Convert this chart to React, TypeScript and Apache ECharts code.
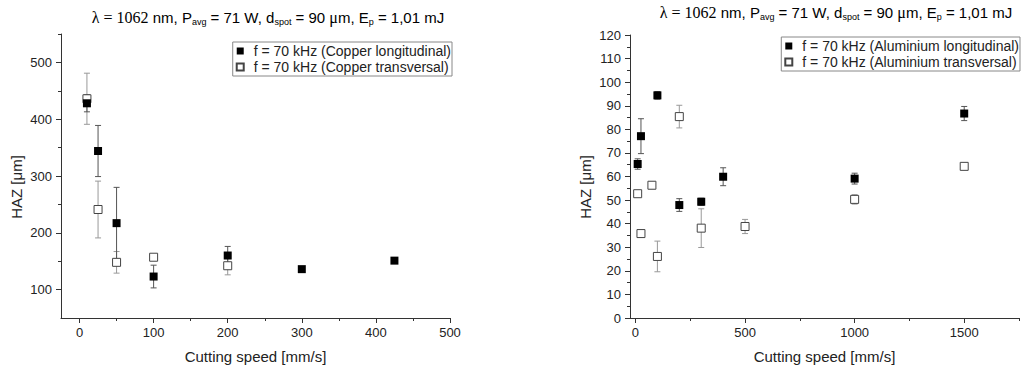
import React, { useEffect, useRef } from "react";
import * as echarts from "echarts";

// ---- Data: Copper (left chart) ----
const cuLongX = [10, 25, 50, 100, 200, 300, 425];
const cuLongY = [428, 344, 217, 123, 160, 136, 151];
const cuLongErr = [15, 45, 63, 20, 16, 3, 5];

const cuTransX = [10, 25, 50, 100, 200];
const cuTransY = [436, 241, 148, 157, 142];
const cuTransErr = [45, 50, 19, 3, 16];

// ---- Data: Aluminium (right chart) ----
const alLongX = [10, 25, 100, 200, 300, 400, 1000, 1500];
const alLongY = [65.3, 77.1, 94.4, 47.9, 49.3, 59.9, 59.1, 86.7];
const alLongErr = [2.2, 7.4, 1.6, 2.7, 1.5, 3.8, 2.3, 3];

const alTransX = [10, 25, 75, 100, 200, 300, 500, 1000, 1500];
const alTransY = [52.7, 35.8, 56.3, 26.1, 85.4, 38.1, 38.8, 50.3, 64.3];
const alTransErr = [1, 1.5, 1.5, 6.5, 4.8, 8.2, 3, 2, 1];

// ---- Ticks ----
const cuXMajor = [0, 100, 200, 300, 400, 500];
const cuXMinor = [50, 150, 250, 350, 450];
const cuYMajor = [100, 200, 300, 400, 500];
const cuYMinor = [150, 250, 350, 450, 550];
const alXMajor = [0, 500, 1000, 1500];
const alXMinor = [250, 750, 1250, 1750];
const alYMajor = [0, 10, 20, 30, 40, 50, 60, 70, 80, 90, 100, 110, 120];
const alYMinor = [5, 15, 25, 35, 45, 55, 65, 75, 85, 95, 105, 115];

const legCuLong = "f = 70 kHz (Copper longitudinal)";
const legCuTrans = "f = 70 kHz (Copper transversal)";
const legAlLong = "f = 70 kHz (Aluminium longitudinal)";
const legAlTrans = "f = 70 kHz (Aluminium transversal)";

const FONT = "'Liberation Sans', Arial, sans-serif";
const TXT = "#222";
const AX = "#333";

function pts(xs: number[], ys: number[]) {
  return xs.map((x, i) => [x, ys[i]]);
}
function errs(xs: number[], ys: number[], es: number[]) {
  return xs.map((x, i) => [x, ys[i] - es[i], ys[i] + es[i]]);
}

function makeErrRender(color: string) {
  return (params: any, api: any) => {
    const x = api.value(0);
    const lo = api.value(1);
    const hi = api.value(2);
    const a = api.coord([x, hi]);
    const b = api.coord([x, lo]);
    const w = 3;
    const style = { stroke: color, lineWidth: 1 };
    return {
      type: "group",
      children: [
        { type: "line", shape: { x1: a[0], y1: a[1], x2: b[0], y2: b[1] }, style },
        { type: "line", shape: { x1: a[0] - w, y1: a[1], x2: a[0] + w, y2: a[1] }, style },
        { type: "line", shape: { x1: b[0] - w, y1: b[1], x2: b[0] + w, y2: b[1] }, style },
      ],
    };
  };
}

function mainAxis(gridIndex: number, min: number, max: number, major: number[], pos: "bottom" | "left", name: string) {
  return {
    type: "value",
    gridIndex,
    position: pos,
    min,
    max,
    name,
    nameLocation: "middle",
    nameGap: 31,
    nameTextStyle: { fontFamily: FONT, fontSize: 15, color: TXT },
    splitLine: { show: false },
    axisLine: { show: true, onZero: false, lineStyle: { color: AX, width: 1 } },
    axisTick: { show: true, inside: false, length: 5, customValues: major, lineStyle: { color: AX } },
    axisLabel: {
      show: true,
      customValues: major,
      formatter: (v: number) => String(v),
      margin: pos === "bottom" ? 8 : 9,
      fontFamily: FONT,
      fontSize: 13,
      color: TXT,
    },
  };
}

function minorAxis(gridIndex: number, min: number, max: number, minor: number[], pos: "bottom" | "left") {
  return {
    type: "value",
    gridIndex,
    position: pos,
    min,
    max,
    splitLine: { show: false },
    axisLine: { show: false, onZero: false },
    axisTick: { show: true, inside: false, length: 3, customValues: minor, lineStyle: { color: AX } },
    axisLabel: { show: false, customValues: minor },
  };
}

const subStyle = { fontSize: 9, fontFamily: FONT, color: TXT, verticalAlign: "bottom", lineHeight: 7 };
const titleRich = {
  s: { fontSize: 16, fontFamily: "'Liberation Serif', 'Times New Roman', serif", color: TXT, lineHeight: 18 },
  sub: subStyle,
  n: { fontSize: 15, fontFamily: FONT, color: TXT, lineHeight: 18 },
};
const titleText =
  "{s|λ = 1062}{n| nm, P}{sub|avg}{n| = 71 W, d}{sub|spot}{n| = 90 }{s|μ}{n|m, E}{sub|p}{n| = 1,01 mJ}";

function legendOpt(data: string[], right: number, top: number) {
  return {
    data,
    orient: "vertical",
    right,
    top,
    padding: [2, 1, 2, 3],
    itemGap: 2,
    itemWidth: 7,
    itemHeight: 7,
    borderColor: "#888",
    borderWidth: 1,
    textStyle: { fontFamily: FONT, fontSize: 14, color: TXT, padding: [0, 0, 0, 5] },
  };
}

export default function App() {
  const ref = useRef<HTMLDivElement>(null);
  useEffect(() => {
    if (!ref.current) return;
    const chart = echarts.init(ref.current, undefined, { renderer: "svg" });
    const option: any = {
      animation: false,
      backgroundColor: "#fff",
      grid: [
        { left: 61, top: 34, width: 389, height: 285, containLabel: false },
        { left: 630, top: 35, width: 389, height: 284, containLabel: false },
      ],
      xAxis: [
        mainAxis(0, -25, 500, cuXMajor, "bottom", "Cutting speed [mm/s]"),
        minorAxis(0, -25, 500, cuXMinor, "bottom"),
        mainAxis(1, -25, 1750, alXMajor, "bottom", "Cutting speed [mm/s]"),
        minorAxis(1, -25, 1750, alXMinor, "bottom"),
      ],
      yAxis: [
        mainAxis(0, 50, 550, cuYMajor, "left", ""),
        minorAxis(0, 50, 550, cuYMinor, "left"),
        mainAxis(1, 0, 120, alYMajor, "left", ""),
        minorAxis(1, 0, 120, alYMinor, "left"),
      ],
      legend: [legendOpt([legCuLong, legCuTrans], 1029 - 452, 42), legendOpt([legAlLong, legAlTrans], 9, 37)],
      graphic: [
        {
          type: "text",
          x: 268,
          y: 17,
          style: { text: titleText, rich: titleRich, align: "center", verticalAlign: "middle" },
        },
        {
          type: "text",
          x: 836,
          y: 12,
          style: { text: titleText, rich: titleRich, align: "center", verticalAlign: "middle" },
        },
        {
          type: "text",
          x: 16,
          y: 187,
          rotation: Math.PI / 2,
          style: { text: "HAZ [μm]", font: `15px ${FONT}`, fill: TXT, align: "center", verticalAlign: "middle" },
        },
        {
          type: "text",
          x: 585,
          y: 187,
          rotation: Math.PI / 2,
          style: { text: "HAZ [μm]", font: `15px ${FONT}`, fill: TXT, align: "center", verticalAlign: "middle" },
        },
      ],
      series: [
        {
          type: "custom",
          xAxisIndex: 0,
          yAxisIndex: 0,
          renderItem: makeErrRender("#999"),
          data: errs(cuTransX, cuTransY, cuTransErr),
          encode: { x: 0, y: [1, 2] },
          z: 1,
          silent: true,
        },
        {
          type: "custom",
          xAxisIndex: 0,
          yAxisIndex: 0,
          renderItem: makeErrRender("#555"),
          data: errs(cuLongX, cuLongY, cuLongErr),
          encode: { x: 0, y: [1, 2] },
          z: 1,
          silent: true,
        },
        {
          name: legCuTrans,
          type: "scatter",
          xAxisIndex: 0,
          yAxisIndex: 0,
          symbol: "rect",
          symbolSize: 8,
          itemStyle: { color: "#fff", borderColor: "#444", borderWidth: 1, opacity: 1 },
          data: pts(cuTransX, cuTransY),
          z: 3,
        },
        {
          name: legCuLong,
          type: "scatter",
          xAxisIndex: 0,
          yAxisIndex: 0,
          symbol: "rect",
          symbolSize: 8,
          itemStyle: { color: "#000", opacity: 1 },
          data: pts(cuLongX, cuLongY),
          z: 4,
        },
        {
          type: "custom",
          xAxisIndex: 2,
          yAxisIndex: 2,
          renderItem: makeErrRender("#999"),
          data: errs(alTransX, alTransY, alTransErr),
          encode: { x: 0, y: [1, 2] },
          z: 1,
          silent: true,
        },
        {
          type: "custom",
          xAxisIndex: 2,
          yAxisIndex: 2,
          renderItem: makeErrRender("#555"),
          data: errs(alLongX, alLongY, alLongErr),
          encode: { x: 0, y: [1, 2] },
          z: 1,
          silent: true,
        },
        {
          name: legAlTrans,
          type: "scatter",
          xAxisIndex: 2,
          yAxisIndex: 2,
          symbol: "rect",
          symbolSize: 8,
          itemStyle: { color: "#fff", borderColor: "#444", borderWidth: 1, opacity: 1 },
          data: pts(alTransX, alTransY),
          z: 3,
        },
        {
          name: legAlLong,
          type: "scatter",
          xAxisIndex: 2,
          yAxisIndex: 2,
          symbol: "rect",
          symbolSize: 8,
          itemStyle: { color: "#000", opacity: 1 },
          data: pts(alLongX, alLongY),
          z: 4,
        },
      ],
    };
    chart.setOption(option);
    return () => chart.dispose();
  }, []);
  return <div ref={ref} style={{ width: 1029, height: 369, position: "absolute", left: 0, top: 0 }} />;
}
